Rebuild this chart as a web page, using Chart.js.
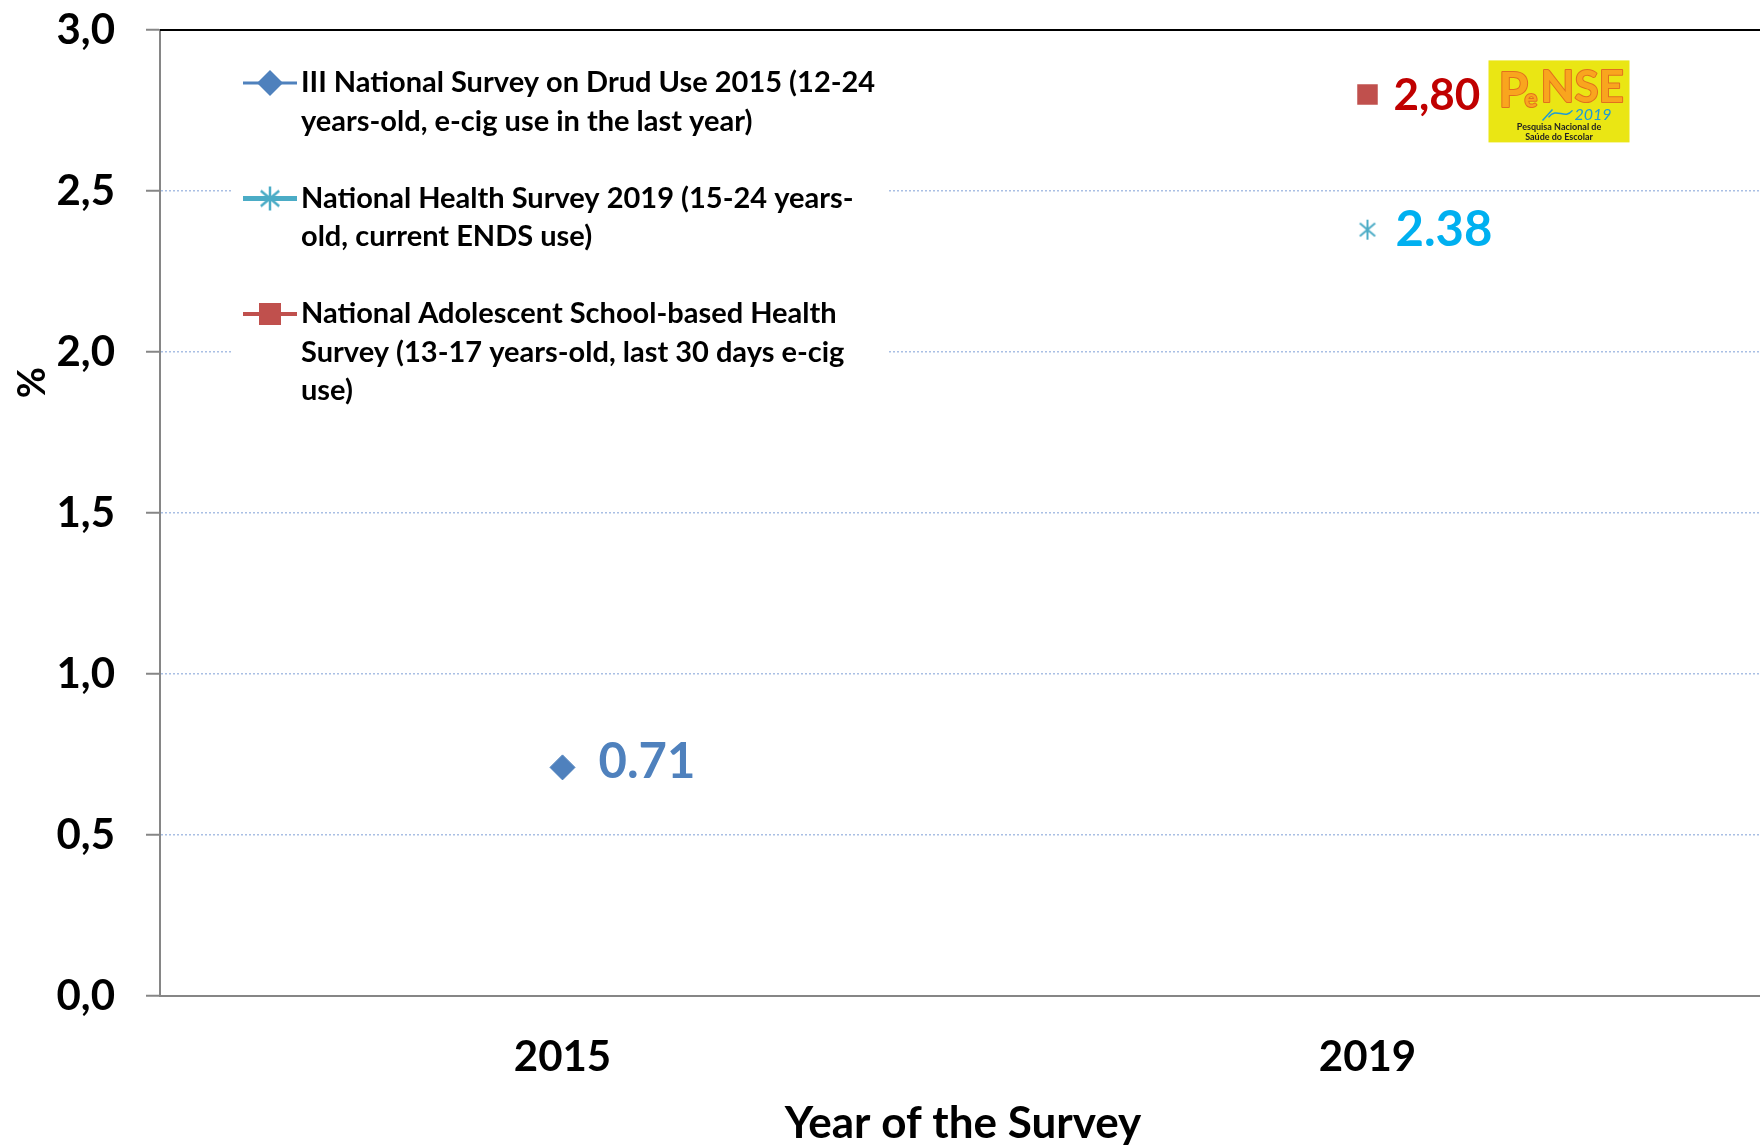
<!DOCTYPE html>
<html>
<head>
<meta charset="utf-8">
<title>E-cigarette use among young people</title>
<script src="https://cdn.jsdelivr.net/npm/chart.js@4.4.1/dist/chart.umd.min.js"></script>
<style>
  html, body { margin: 0; padding: 0; background: #fff; overflow: hidden; }
  canvas { display: block; }
</style>
</head>
<body>
<!-- plot runs slightly past the right edge, as in the original slide -->
<canvas id="chart" width="1770" height="1146"></canvas>
<script>
// Survey data
const years = ['2015', '2019'];
const drugSurvey2015 = [0.71, null];
const healthSurvey2019 = [null, 2.38];
const penseSurvey2019 = [null, 2.80];
const valueLabels = ['0.71', '2.38', '2,80'];
const yTickLabels = ['0,0', '0,5', '1,0', '1,5', '2,0', '2,5', '3,0'];
const legendLines = [
    ['III National Survey on Drud Use 2015 (12-24', 'years-old, e-cig use in the last year)'],
    ['National Health Survey 2019 (15-24 years-', 'old, current ENDS use)'],
    ['National Adolescent School-based Health', 'Survey (13-17 years-old, last 30 days e-cig', 'use)']
];

const FONT = 'Lato, "Open Sans", "Liberation Sans", sans-serif';
const seriesColors = ['#4F81BD', '#4BACC6', '#C0504D'];
const labelColors = ['#4F81BD', '#00B0F0', '#C00000'];

// Asterisk marker (vertical stroke + X), used as point style
function makeAsterisk(color, size, width) {
    const c = document.createElement('canvas');
    c.width = size;
    c.height = size;
    const g = c.getContext('2d');
    g.strokeStyle = color;
    g.lineWidth = width;
    const m = size / 2, r = size / 2 - 1;
    g.beginPath();
    [90, 40, 140].forEach(deg => {
        const a = deg * Math.PI / 180;
        g.moveTo(m - Math.cos(a) * r, m - Math.sin(a) * r);
        g.lineTo(m + Math.cos(a) * r, m + Math.sin(a) * r);
    });
    g.stroke();
    return c;
}
const asterisk = makeAsterisk(seriesColors[1], 22, 2);
const legendAsterisk = makeAsterisk(seriesColors[1], 26, 2.5);

// Top frame line at 3,0
const topLinePlugin = {
    id: 'topLine',
    afterDraw(chart) {
        const { ctx, chartArea } = chart;
        ctx.save();
        ctx.strokeStyle = '#000';
        ctx.lineWidth = 2;
        ctx.beginPath();
        ctx.moveTo(chartArea.left, chartArea.top);
        ctx.lineTo(chartArea.right, chartArea.top);
        ctx.stroke();
        ctx.restore();
    }
};

// Value labels next to each point
const valueLabelPlugin = {
    id: 'valueLabels',
    afterDatasetsDraw(chart) {
        const { ctx } = chart;
        const sizes = [49, 49, 44];
        const dx = [36, 28, 26];
        const dy = [-5, 1, 1];
        ctx.save();
        ctx.textAlign = 'left';
        ctx.textBaseline = 'middle';
        chart.data.datasets.forEach((ds, i) => {
            chart.getDatasetMeta(i).data.forEach((el, j) => {
                if (ds.data[j] == null) return;
                ctx.font = `bold ${sizes[i]}px ${FONT}`;
                ctx.fillStyle = labelColors[i];
                ctx.fillText(valueLabels[i], el.x + dx[i], el.y + dy[i]);
            });
        });
        ctx.restore();
    }
};

// PeNSE logo next to the 2019 school survey point
const logoPlugin = {
    id: 'penseLogo',
    afterDatasetsDraw(chart) {
        const { ctx } = chart;
        const meta = chart.getDatasetMeta(2);
        const el = meta.data[1];
        if (!el) return;
        const x = el.x + 121, y = el.y - 34, w = 141, h = 82;
        ctx.save();
        ctx.fillStyle = '#EAE614';
        ctx.fillRect(x, y, w, h);
        // PeNSE lettering
        ctx.textBaseline = 'alphabetic';
        ctx.textAlign = 'left';
        ctx.lineJoin = 'round';
        ctx.lineWidth = 2;
        ctx.strokeStyle = '#E2701E';
        ctx.fillStyle = '#F9A51E';
        ctx.font = `bold 48px ${FONT}`;
        ctx.strokeText('P', x + 10, y + 47);
        ctx.fillText('P', x + 10, y + 47);
        ctx.font = `bold 24px ${FONT}`;
        ctx.strokeText('e', x + 36, y + 47);
        ctx.fillText('e', x + 36, y + 47);
        ctx.font = `bold 44px ${FONT}`;
        ctx.strokeText('NSE', x + 52, y + 42);
        ctx.fillText('NSE', x + 52, y + 42);
        // pencil stroke and year
        ctx.strokeStyle = '#1E9AD6';
        ctx.lineWidth = 1.5;
        ctx.beginPath();
        ctx.moveTo(x + 54, y + 60);
        ctx.lineTo(x + 64, y + 49);
        ctx.moveTo(x + 60, y + 57);
        ctx.bezierCurveTo(x + 68, y + 46, x + 76, y + 60, x + 84, y + 50);
        ctx.stroke();
        ctx.fillStyle = '#1E9AD6';
        ctx.font = `italic 16px ${FONT}`;
        ctx.fillText('2019', x + 86, y + 60);
        // subtitle
        ctx.fillStyle = '#222';
        ctx.textAlign = 'center';
        ctx.font = `bold 9px ${FONT}`;
        ctx.fillText('Pesquisa Nacional de', x + w / 2, y + 70);
        ctx.fillText('Saúde do Escolar', x + w / 2, y + 80);
        ctx.restore();
    }
};

// Legend box inside plot area
const legendPlugin = {
    id: 'boxLegend',
    afterDraw(chart) {
        const { ctx, chartArea } = chart;
        const left = chartArea.left + 83;
        const top = chartArea.top + 53;
        ctx.save();
        ctx.fillStyle = '#fff';
        ctx.fillRect(left - 10, top - 33, 655, 365);
        const lineW = [3, 5, 4];
        legendLines.forEach((lines, i) => {
            const y = top + i * 115.5;
            const mx = left + 27;
            ctx.strokeStyle = seriesColors[i];
            ctx.lineWidth = lineW[i];
            ctx.beginPath();
            ctx.moveTo(left, y);
            ctx.lineTo(left + 54, y);
            ctx.stroke();
            ctx.fillStyle = seriesColors[i];
            if (i === 0) {
                ctx.beginPath();
                ctx.moveTo(mx, y - 13);
                ctx.lineTo(mx + 13, y);
                ctx.lineTo(mx, y + 13);
                ctx.lineTo(mx - 13, y);
                ctx.closePath();
                ctx.fill();
            } else if (i === 1) {
                ctx.drawImage(legendAsterisk, mx - 13, y - 13);
            } else {
                ctx.fillRect(mx - 11, y - 11, 22, 22);
            }
            ctx.fillStyle = '#000';
            ctx.font = `bold 29px ${FONT}`;
            ctx.textAlign = 'left';
            ctx.textBaseline = 'middle';
            lines.forEach((t, k) => ctx.fillText(t, left + 58, y + k * 38.5));
        });
        ctx.restore();
    }
};

// Axis titles
const axisTitlePlugin = {
    id: 'axisTitles',
    afterDraw(chart) {
        const { ctx, chartArea } = chart;
        ctx.save();
        ctx.fillStyle = '#000';
        ctx.textAlign = 'center';
        ctx.textBaseline = 'middle';
        ctx.font = `bold 44px ${FONT}`;
        ctx.fillText('Year of the Survey', 963, 1124);
        ctx.translate(33, chartArea.top + (chartArea.bottom - chartArea.top) * 0.365);
        ctx.rotate(-Math.PI / 2);
        ctx.font = `bold 38px ${FONT}`;
        ctx.fillText('%', 0, 0);
        ctx.restore();
    }
};

const ctx = document.getElementById('chart').getContext('2d');

new Chart(ctx, {
    type: 'line',
    data: {
        labels: years,
        datasets: [
            {
                label: legendLines[0].join(' '),
                data: drugSurvey2015,
                borderColor: seriesColors[0],
                backgroundColor: seriesColors[0],
                pointStyle: 'rectRot',
                pointRadius: 12.5,
                showLine: false
            },
            {
                label: legendLines[1].join(' '),
                data: healthSurvey2019,
                borderColor: seriesColors[1],
                backgroundColor: seriesColors[1],
                pointStyle: asterisk,
                showLine: false
            },
            {
                label: legendLines[2].join(' '),
                data: penseSurvey2019,
                borderColor: seriesColors[2],
                backgroundColor: seriesColors[2],
                pointStyle: 'rect',
                pointRadius: 14.5,
                pointBorderWidth: 0,
                showLine: false
            }
        ]
    },
    options: {
        responsive: false,
        animation: false,
        layout: {
            autoPadding: false,
            padding: { top: 30, right: 0, bottom: 0, left: 0 }
        },
        plugins: {
            legend: { display: false },
            tooltip: { enabled: false }
        },
        scales: {
            x: {
                type: 'category',
                offset: true,
                afterFit: scale => {
                    scale.height = 150;
                    scale.paddingLeft = 0;
                    scale.paddingRight = 0;
                },
                grid: { display: true, drawOnChartArea: false, drawTicks: false },
                border: { display: true, color: '#868686', width: 2 },
                ticks: {
                    color: '#000',
                    padding: 36,
                    font: { family: FONT, size: 42, weight: 'bold' }
                }
            },
            y: {
                min: 0,
                max: 3,
                afterFit: scale => {
                    scale.width = 160;
                    scale.paddingTop = 0;
                    scale.paddingBottom = 0;
                },
                grid: {
                    color: c => (c.tick && (c.tick.value === 0 || c.tick.value === 3)) ? 'rgba(0,0,0,0)' : '#A9BFE4',
                    lineWidth: 1.5,
                    tickColor: '#868686',
                    tickWidth: 2,
                    tickLength: 14,
                    tickBorderDash: []
                },
                border: { display: true, color: '#868686', width: 2, dash: [2, 2] },
                ticks: {
                    stepSize: 0.5,
                    color: '#000',
                    padding: 31,
                    font: { family: FONT, size: 42, weight: 'bold' },
                    callback: (value, index) => yTickLabels[index]
                }
            }
        }
    },
    plugins: [topLinePlugin, valueLabelPlugin, logoPlugin, legendPlugin, axisTitlePlugin]
});
</script>
</body>
</html>
